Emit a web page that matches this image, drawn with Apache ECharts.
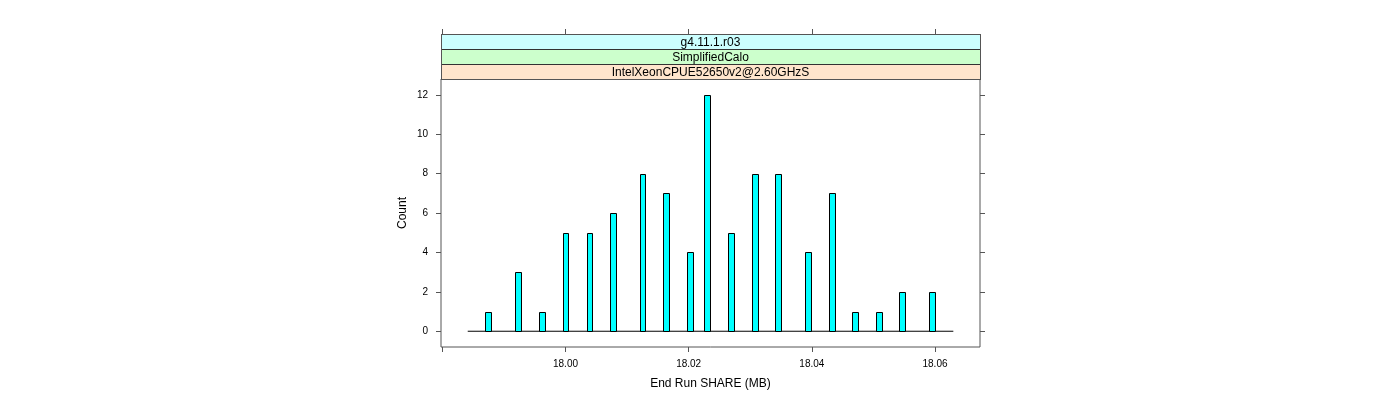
<!DOCTYPE html>
<html>
<head>
<meta charset="utf-8">
<script src="https://cdn.jsdelivr.net/npm/echarts@6/dist/echarts.min.js"></script>
<style>
html,body{margin:0;padding:0;background:#fff;}
#chart{width:1400px;height:400px;}
</style>
</head>
<body>
<div id="chart"></div>
<script>
// ---- data ----
const binCenters = [17.98746, 17.99234, 17.99614, 18.00000, 18.00390, 18.00768, 18.01250, 18.01635, 18.02019, 18.02301,
                    18.02692, 18.03072, 18.03456, 18.03941, 18.04323, 18.04706, 18.05091, 18.05469, 18.05956];
const counts = [1, 3, 1, 5, 5, 6, 8, 7, 4, 12, 5, 8, 8, 4, 7, 1, 1, 2, 2];
const binWidth = 0.000963;
const histRange = [17.98412, 18.06298];
const xTicks = [17.98, 18.00, 18.02, 18.04, 18.06];
const xTickLabels = [18.00, 18.02, 18.04, 18.06];
const yTicks = [0, 2, 4, 6, 8, 10, 12];
const stripLabels = ['g4.11.1.r03', 'SimplifiedCalo', 'IntelXeonCPUE52650v2@2.60GHzS'];
const stripColors = ['#ccffff', '#ccffcc', '#ffe5cc'];
const xTitle = 'End Run SHARE (MB)';
const yTitle = 'Count';

// ---- layout ----
const gridLeft = 441, gridTop = 79, gridW = 539, gridH = 268;
const stripH = 15;
const xMin = 17.97978, xMax = 18.06731, yMin = -0.8, yMax = 12.8;
const font = 'Liberation Sans, Arial, Helvetica, sans-serif';
const axisCol = '#555';

const chart = echarts.init(document.getElementById('chart'), null, {renderer: 'canvas'});

const barData = binCenters.map((c, i) => [c, counts[i]]);

const graphics = [];
stripLabels.forEach((t, i) => {
  const y = gridTop - stripH * (stripLabels.length - i);
  graphics.push({
    type: 'rect',
    shape: {x: gridLeft + 0.5, y: y + 0.5, width: gridW, height: stripH},
    style: {fill: stripColors[i], stroke: '#333', lineWidth: 1},
    z: 10
  });
  graphics.push({
    type: 'text',
    x: gridLeft + gridW / 2, y: y + stripH / 2 + 1,
    style: {text: t, font: '12px ' + font, fill: '#000', align: 'center', verticalAlign: 'middle'},
    z: 11
  });
});
graphics.push({
  type: 'rect',
  shape: {x: gridLeft + 0.5, y: gridTop - stripH * 3 + 0.5, width: gridW, height: stripH * 3},
  style: {fill: null, stroke: axisCol, lineWidth: 1},
  z: 12
});

const hiddenLine = {show: false, onZero: false};
const option = {
  animation: false,
  backgroundColor: '#fff',
  grid: {left: gridLeft, top: gridTop, width: gridW, height: gridH, show: true, borderColor: axisCol, borderWidth: 1, backgroundColor: 'transparent'},
  xAxis: [
    {
      type: 'value', min: xMin, max: xMax, position: 'bottom',
      name: xTitle, nameLocation: 'middle', nameGap: 31,
      nameTextStyle: {fontFamily: font, fontSize: 12, color: '#000'},
      axisLine: hiddenLine,
      splitLine: {show: false},
      axisTick: {show: true, length: 5, inside: false, customValues: xTicks, lineStyle: {color: axisCol}},
      axisLabel: {show: true, customValues: xTickLabels, margin: 12, fontFamily: font, fontSize: 10, color: '#000',
                  formatter: v => v.toFixed(2)}
    },
    {
      type: 'value', min: xMin, max: xMax, position: 'top', offset: stripH * 3,
      axisLine: hiddenLine, splitLine: {show: false},
      axisTick: {show: true, length: 5, customValues: xTicks, lineStyle: {color: axisCol}},
      axisLabel: {show: false}
    }
  ],
  yAxis: [
    {
      type: 'value', min: yMin, max: yMax, position: 'left',
      name: yTitle, nameLocation: 'middle', nameGap: 32, nameRotate: 90,
      nameTextStyle: {fontFamily: font, fontSize: 12, color: '#000'},
      axisLine: hiddenLine, splitLine: {show: false},
      axisTick: {show: true, length: 5, customValues: yTicks, lineStyle: {color: axisCol}},
      axisLabel: {show: true, customValues: yTicks, margin: 13, fontFamily: font, fontSize: 10, color: '#000'}
    },
    {
      type: 'value', min: yMin, max: yMax, position: 'right',
      axisLine: hiddenLine, splitLine: {show: false},
      axisTick: {show: true, length: 5, customValues: yTicks, lineStyle: {color: axisCol}},
      axisLabel: {show: false}
    }
  ],
  series: [
    {
      type: 'line',
      data: [[histRange[0], 0], [histRange[1], 0]],
      symbol: 'none',
      lineStyle: {color: '#000', width: 1},
      z: 1, silent: true
    },
    {
      type: 'custom',
      data: barData,
      z: 2,
      renderItem: function (params, api) {
        const x = api.value(0), y = api.value(1);
        const p0 = api.coord([x - binWidth / 2, y]);
        const p1 = api.coord([x + binWidth / 2, 0]);
        const x0 = Math.round(p0[0]), y0 = Math.round(p0[1]);
        const x1 = Math.round(p1[0]), y1 = Math.round(p1[1]);
        return {
          type: 'rect',
          shape: {x: x0 + 0.5, y: y0 + 0.5, width: x1 - x0, height: y1 - y0},
          style: {fill: '#00ffff', stroke: '#000', lineWidth: 1}
        };
      }
    }
  ],
  graphic: graphics
};
chart.setOption(option);
</script>
</body>
</html>
